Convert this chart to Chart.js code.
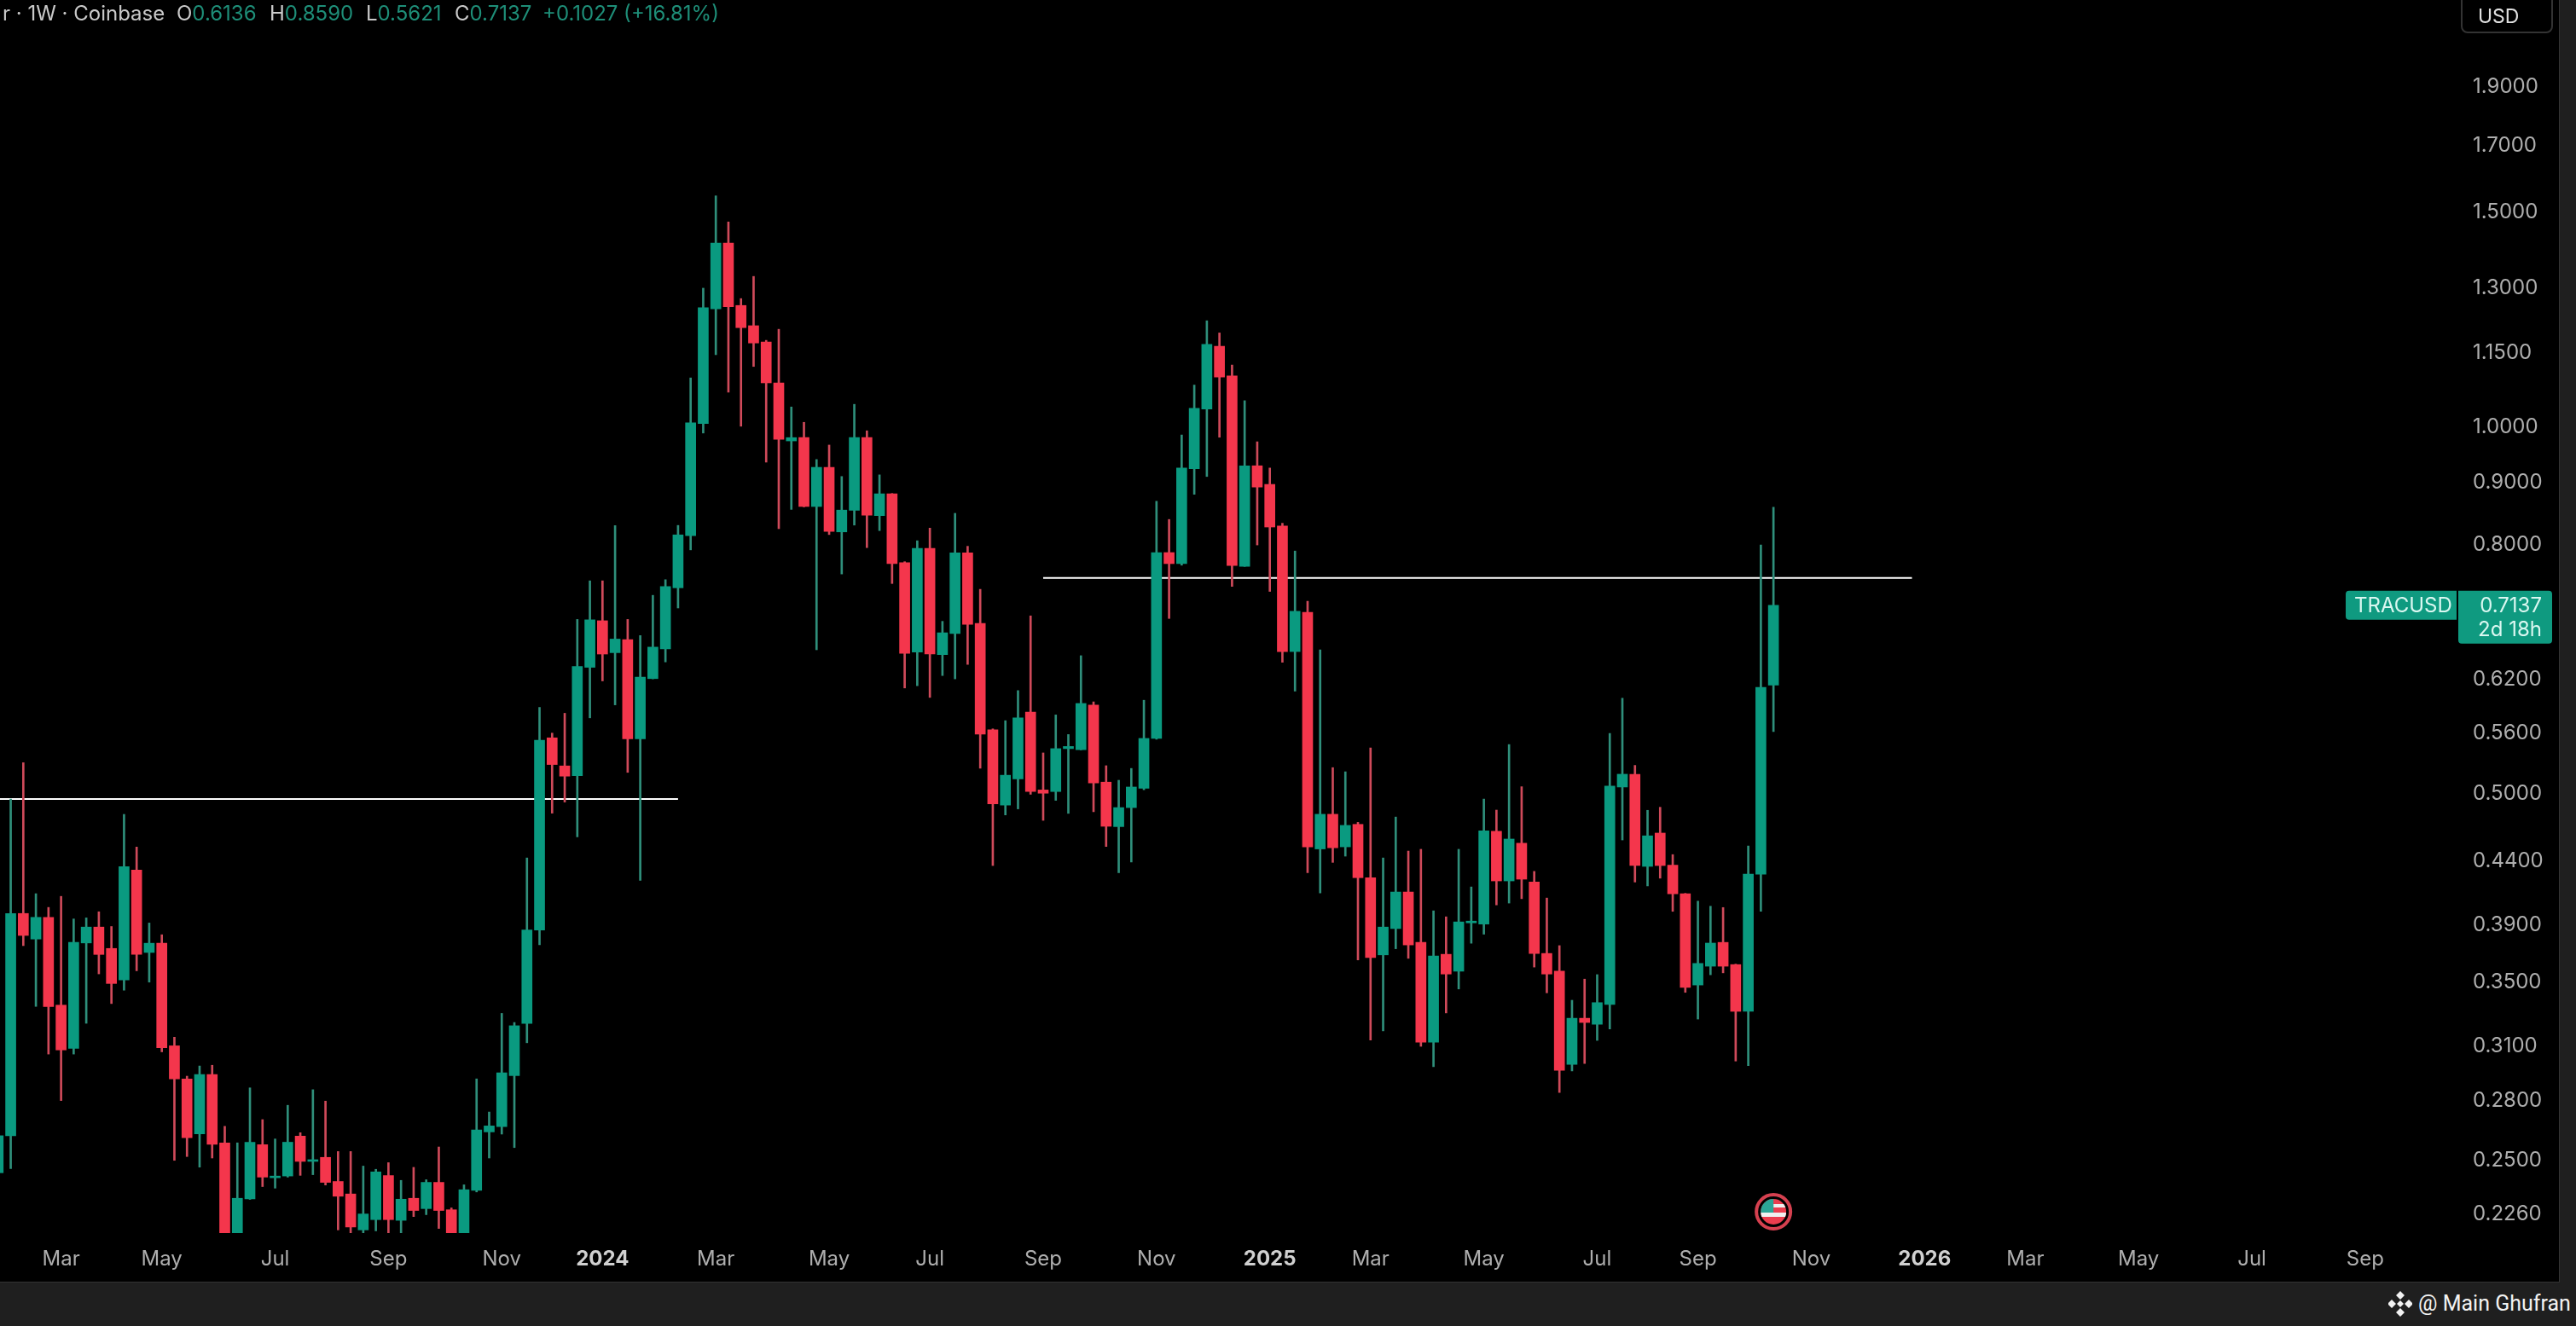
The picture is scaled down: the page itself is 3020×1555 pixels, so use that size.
<!DOCTYPE html>
<html lang="en">
<head>
    <meta charset="UTF-8">
    <title>TRACUSD 1W</title>
    <style>
        html, body { margin: 0; padding: 0; width: 3020px; height: 1555px; overflow: hidden; background: #1f1f1f; font-family: Inter, sans-serif; }
        #panel { position: absolute; left: 0; top: 0; width: 3000px; height: 1503px; background: #000; border-right: 1px solid #333; border-bottom: 1px solid #333; }
        canvas { position: absolute; left: 0; top: 0; }
        .hd { position: absolute; top: 2px; font-size: 24px; line-height: 28px; color: #c9c9c9; white-space: pre; }
        .gr { color: #1e8e78; }
        #usd { position: absolute; left: 2885px; top: -2px; width: 108px; height: 41px; box-sizing: border-box; border: 2px solid #333; border-radius: 0 0 8px 8px; color: #e0e0e0; font-size: 23px; line-height: 38px; padding-left: 18px; }
        #mark { position: absolute; left: 2835px; top: 1513px; font-family: Roboto, sans-serif; font-size: 25px; line-height: 32px; color: #f2f2f2; white-space: pre; }
        #logo { position: absolute; left: 2800px; top: 1514px; }
    </style>
</head>
<body>
    <div id="panel"></div>
    <canvas id="chart" width="3000" height="1503"></canvas>
    <div class="hd" style="left:3px">r · 1W · Coinbase</div>
    <div class="hd" style="left:207px">O<span class="gr">0.6136</span></div>
    <div class="hd" style="left:316px">H<span class="gr">0.8590</span></div>
    <div class="hd" style="left:429px">L<span class="gr">0.5621</span></div>
    <div class="hd" style="left:533px">C<span class="gr">0.7137</span></div>
    <div class="hd gr" style="left:636px">+0.1027 (+16.81%)</div>
    <div id="usd">USD</div>
    <svg id="logo" width="28" height="30" viewBox="0 0 28 30" fill="#f2f2f2">
        <path d="M14 0l5 5-5 5-5-5z M14 20l5 5-5 5-5-5z M4 10l5 5-5 5-5-5z M24 10l5 5-5 5-5-5z M14 11l4 4-4 4-4-4z"/>
    </svg>
    <div id="mark">@ Main Ghufran</div>

    <script src="https://cdn.jsdelivr.net/npm/chart.js"></script>
    <script>
    const opens = [
        0.2442,0.2619,0.3986,0.3798,0.3957,0.3352,0.3089,0.3770,0.3885,0.3731,
        0.3516,0.4326,0.3703,0.3768,0.3104,0.2916,0.2628,0.2940,0.2584,0.2150,
        0.2324,0.2575,0.2419,0.2427,0.2617,0.2495,0.2514,0.2402,0.2346,0.2192,
        0.2235,0.2429,0.2232,0.2327,0.2282,0.2398,0.2277,0.2150,0.2362,0.2638,
        0.2665,0.2934,0.3238,0.3863,0.5555,0.5268,0.5171,0.6347,0.6931,0.6525,
        0.6687,0.5545,0.6213,0.6571,0.7376,0.8141,1.0060,1.2498,1.4148,1.2576,
        1.2104,1.1737,1.0865,0.9736,0.9797,0.8601,0.9262,0.8198,0.8538,0.9797,
        0.8454,0.8810,0.7736,0.6532,0.7948,0.6501,0.6766,0.7880,0.6896,0.5640,
        0.4892,0.5141,0.5831,0.5034,0.5019,0.5443,0.5432,0.5910,0.5109,0.4697,
        0.4869,0.5050,0.5549,0.7884,0.7721,0.9236,1.0341,1.1643,1.1008,0.7682,
        0.9289,0.8968,0.8291,0.6539,0.7042,0.4503,0.4808,0.4521,0.4717,0.4265,
        0.3686,0.3874,0.4151,0.3775,0.3126,0.3690,0.3574,0.3916,0.3907,0.4656,
        0.4239,0.4552,0.4231,0.3696,0.3574,0.2997,0.3270,0.3233,0.3356,0.5062,
        0.5185,0.4357,0.4640,0.4367,0.4137,0.3482,0.3608,0.3774,0.3619,0.3313,
        0.4293,0.6136
    ];
    const closes = [
        0.2619,0.3986,0.3824,0.3957,0.3343,0.3080,0.3775,0.3885,0.3689,0.3492,
        0.4354,0.3689,0.3768,0.3093,0.2916,0.2609,0.2940,0.2577,0.2150,0.2327,
        0.2587,0.2422,0.2426,0.2587,0.2495,0.2503,0.2398,0.2336,0.2204,0.2259,
        0.2446,0.2235,0.2323,0.2274,0.2398,0.2274,0.2150,0.2365,0.2648,0.2668,
        0.2950,0.3224,0.3863,0.5530,0.5282,0.5167,0.6358,0.6943,0.6508,0.6695,
        0.5545,0.6230,0.6594,0.7393,0.8152,1.0073,1.2523,1.4148,1.2545,1.2060,
        1.1715,1.0865,0.9766,0.9797,0.8601,0.9262,0.8207,0.8543,0.9797,0.8460,
        0.8810,0.7721,0.6517,0.7948,0.6508,0.6775,0.7880,0.6885,0.5595,0.4904,
        0.5176,0.5769,0.5019,0.5003,0.5443,0.5465,0.5928,0.5102,0.4700,0.4869,
        0.5062,0.5549,0.7884,0.7721,0.9250,1.0356,1.1686,1.0985,0.7693,0.9289,
        0.8923,0.8274,0.6539,0.7056,0.4521,0.4808,0.4513,0.4708,0.4265,0.3668,
        0.3885,0.4151,0.3756,0.3126,0.3678,0.3555,0.3923,0.3929,0.4660,0.4239,
        0.4588,0.4253,0.3696,0.3555,0.2964,0.3270,0.3244,0.3368,0.5071,0.5186,
        0.4364,0.4616,0.4364,0.4137,0.3466,0.3627,0.3769,0.3608,0.3313,0.4293,
        0.6110,0.7137
    ];
    const highs = [
        0.2700,0.4947,0.5300,0.4138,0.4032,0.4117,0.3945,0.3953,0.3999,0.3889,
        0.4807,0.4519,0.3915,0.3829,0.3155,0.2931,0.2988,0.2992,0.2666,0.2584,
        0.2867,0.2700,0.2603,0.2774,0.2634,0.2857,0.2796,0.2542,0.2542,0.2473,
        0.2458,0.2489,0.2407,0.2467,0.2410,0.2564,0.2285,0.2387,0.2916,0.2739,
        0.3300,0.3244,0.4427,0.5883,0.5605,0.5819,0.6948,0.7474,0.7474,0.8296,
        0.6948,0.6739,0.7272,0.7490,0.8299,1.0967,1.2994,1.5471,1.4727,1.2741,
        1.3286,1.1774,1.2023,1.0381,1.0084,0.9400,0.9660,0.9103,1.0433,0.9924,
        0.9131,0.8815,0.7749,0.8062,0.8257,0.6923,0.8491,0.7978,0.7355,0.5650,
        0.5738,0.6074,0.6995,0.5399,0.5801,0.5590,0.6488,0.5946,0.5270,0.5127,
        0.5243,0.5964,0.8688,0.8393,0.9846,1.0820,1.2218,1.1940,1.1239,1.0505,
        0.9720,0.9250,0.8333,0.7907,0.7190,0.6561,0.5251,0.5210,0.4735,0.5450,
        0.4427,0.4783,0.4485,0.4500,0.4006,0.3961,0.4500,0.4191,0.4948,0.4846,
        0.5485,0.5065,0.4316,0.4104,0.3751,0.3383,0.3521,0.3551,0.5601,0.5987,
        0.5273,0.4844,0.4872,0.4455,0.4140,0.4080,0.4041,0.4031,0.3622,0.4528,
        0.7998,0.8590
    ];
    const lows = [
        0.2400,0.2461,0.3751,0.3344,0.3056,0.2799,0.3056,0.3239,0.3556,0.3362,
        0.3448,0.3577,0.3501,0.3069,0.2500,0.2518,0.2468,0.2511,0.2100,0.2100,
        0.2322,0.2379,0.2372,0.2422,0.2430,0.2433,0.2386,0.2192,0.2170,0.2170,
        0.2188,0.2170,0.2170,0.2248,0.2256,0.2198,0.2100,0.2100,0.2355,0.2511,
        0.2627,0.2561,0.3122,0.3757,0.4818,0.4920,0.4607,0.5769,0.6186,0.5912,
        0.5204,0.4243,0.6210,0.6412,0.7100,0.7924,0.9882,1.1459,1.0675,1.0010,
        1.1207,0.9353,0.8248,0.8554,0.8595,0.6561,0.8157,0.7571,0.8304,0.7958,
        0.8218,0.7436,0.6104,0.6130,0.5996,0.6249,0.6210,0.6382,0.5245,0.4364,
        0.4802,0.4857,0.4993,0.4753,0.4936,0.4816,0.5430,0.4831,0.4524,0.4305,
        0.4393,0.5036,0.5541,0.6961,0.7698,0.8802,0.9103,0.9804,0.7395,0.7680,
        0.7998,0.7326,0.6408,0.6068,0.4305,0.4144,0.4390,0.4442,0.3651,0.3138,
        0.3193,0.3729,0.3662,0.3101,0.2984,0.3303,0.3456,0.3768,0.3833,0.4051,
        0.4065,0.4099,0.3602,0.3431,0.2842,0.2960,0.3002,0.3136,0.3204,0.4580,
        0.4230,0.4199,0.4261,0.4002,0.3434,0.3265,0.3550,0.3563,0.3016,0.2990,
        0.4002,0.5621
    ];

    // time axis: week number of each label
    const tickWeeks = [5,13,22,31,40,48,57,66,74,83,92,101,109,118,127,135,144,153,161,170,179,188];
    const tickLabels = ['Mar','May','Jul','Sep','Nov','2024','Mar','May','Jul','Sep','Nov','2025','Mar','May','Jul','Sep','Nov','2026','Mar','May','Jul','Sep'];
    const priceTicks = [1.9,1.7,1.5,1.3,1.15,1.0,0.9,0.8,0.62,0.56,0.5,0.44,0.39,0.35,0.31,0.28,0.25,0.226];

    // the two drawn resistance lines
    const lineLow = { price: 0.4948, fromWeek: 0, toWeek: 54 };
    const lineHigh = { price: 0.7516, fromWeek: 83, toWeek: 152 };
    const newsWeek = 141;

    const UP = '#0a9a80';
    const DOWN = '#f4364c';
    const UP_WICK = '#2f8f7b';
    const DOWN_WICK = '#cf4a5a';
    const FONT = 'Inter, sans-serif';

    const weeks = opens.map((o, i) => i);
    const isUp = i => closes[i] >= opens[i];
    // the tick is missing when Chart.js resolves the font before ticks exist
    const isYear = ctx => !!ctx.tick && /^\d{4}$/.test(tickLabels[tickWeeks.indexOf(ctx.tick.value)]);
    // plot area must reach the canvas edges, so drop the label padding
    const noPadding = s => { s.paddingLeft = s.paddingRight = s.paddingTop = s.paddingBottom = 0; };

    const priceTag = {
        id: 'priceTag',
        afterDraw(chart) {
            const ctx = chart.ctx;
            const y = chart.scales.y.getPixelForValue(closes[closes.length - 1]);
            ctx.save();
            ctx.fillStyle = '#0f9a80';
            ctx.beginPath();
            ctx.roundRect(2750, y - 17, 130, 34, [4, 0, 0, 4]);
            ctx.fill();
            ctx.beginPath();
            ctx.roundRect(2882, y - 17, 110, 62, [0, 4, 4, 4]);
            ctx.fill();
            ctx.fillStyle = '#d9f7f0';
            ctx.font = '24px ' + FONT;
            ctx.textBaseline = 'middle';
            ctx.textAlign = 'left';
            ctx.fillText('TRACUSD', 2760, y + 1);
            ctx.textAlign = 'right';
            ctx.fillText('0.7137', 2980, y + 1);
            ctx.fillText('2d 18h', 2980, y + 29);

            // flag marker under the last candles
            const cx = chart.scales.x.getPixelForValue(newsWeek);
            const cy = 1421;
            ctx.fillStyle = '#000';
            ctx.strokeStyle = '#d5404f';
            ctx.lineWidth = 4;
            ctx.beginPath();
            ctx.arc(cx, cy, 20, 0, Math.PI * 2);
            ctx.fill();
            ctx.stroke();
            ctx.beginPath();
            ctx.arc(cx, cy, 15, 0, Math.PI * 2);
            ctx.clip();
            ctx.fillStyle = '#ec3d4e';
            ctx.fillRect(cx - 15, cy - 15, 30, 30);
            ctx.fillStyle = '#f0f0f0';
            ctx.fillRect(cx - 15, cy + 1, 30, 5);
            ctx.fillRect(cx, cy - 9, 15, 4);
            ctx.fillStyle = '#2ba596';
            ctx.fillRect(cx - 15, cy - 15, 15, 16);
            ctx.restore();
        }
    };

    new Chart(document.getElementById('chart').getContext('2d'), {
        type: 'bar',
        data: {
            datasets: [
                {
                    data: weeks.map(i => ({ x: i, y: [opens[i], closes[i]] })),
                    backgroundColor: weeks.map(i => isUp(i) ? UP : DOWN),
                    barThickness: 12,
                    minBarLength: 2,
                    order: 1
                },
                {
                    data: weeks.map(i => ({ x: i, y: [lows[i], highs[i]] })),
                    backgroundColor: weeks.map(i => isUp(i) ? UP_WICK : DOWN_WICK),
                    barThickness: 2,
                    order: 2
                },
                {
                    type: 'line',
                    data: [{ x: lineLow.fromWeek, y: lineLow.price }, { x: lineLow.toWeek, y: lineLow.price }],
                    borderColor: '#fff',
                    borderWidth: 2,
                    pointRadius: 0,
                    order: 3
                },
                {
                    type: 'line',
                    data: [{ x: lineHigh.fromWeek, y: lineHigh.price }, { x: lineHigh.toWeek, y: lineHigh.price }],
                    borderColor: '#fff',
                    borderWidth: 2,
                    pointRadius: 0,
                    order: 3
                }
            ]
        },
        options: {
            responsive: false,
            animation: false,
            devicePixelRatio: 1,
            grouped: false,
            layout: { padding: 0 },
            plugins: { legend: { display: false }, tooltip: { enabled: false } },
            scales: {
                x: {
                    type: 'linear',
                    offset: false,
                    min: 0.149,
                    max: 193.9,
                    grid: { display: false, drawTicks: false, offset: false },
                    border: { display: false },
                    afterBuildTicks: s => { s.ticks = tickWeeks.map(v => ({ value: v })); },
                    afterFit: s => { s.height = 57; noPadding(s); },
                    ticks: {
                        autoSkip: false,
                        maxRotation: 0,
                        padding: 16,
                        color: ctx => isYear(ctx) ? '#d0d0d0' : '#aeaeae',
                        font: ctx => ({ family: FONT, size: 24, weight: isYear(ctx) ? 'bold' : 'normal' }),
                        callback: v => tickLabels[tickWeeks.indexOf(v)]
                    }
                },
                y: {
                    type: 'logarithmic',
                    position: 'right',
                    min: 0.2179,
                    max: 2.24,
                    grid: { display: false, drawTicks: false },
                    border: { display: false },
                    afterBuildTicks: s => { s.ticks = priceTicks.map(v => ({ value: v })); },
                    afterFit: s => { s.width = 140; noPadding(s); },
                    ticks: {
                        autoSkip: false,
                        padding: 39,
                        color: '#aeaeae',
                        font: { family: FONT, size: 24 },
                        callback: v => Number(v).toFixed(4)
                    }
                }
            }
        },
        plugins: [priceTag]
    });
    </script>
</body>
</html>
